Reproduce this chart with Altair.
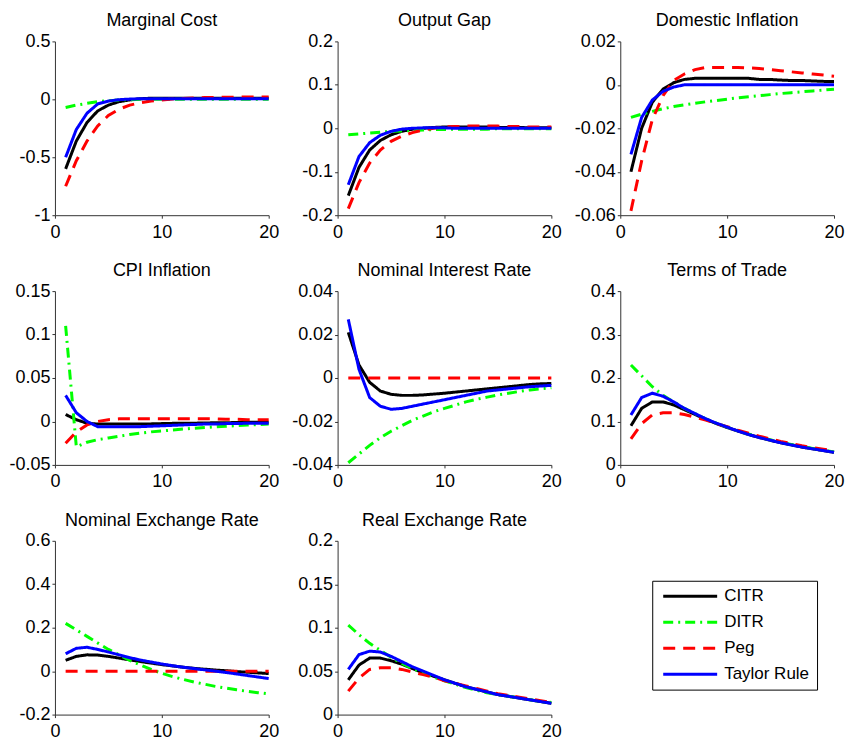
import altair as alt
import pandas as pd

periods = list(range(1, 21))
series_names = ["CITR", "DITR", "Peg", "Taylor Rule"]
series_colors = ["#000000", "#00ff00", "#ff0000", "#0000ff"]
series_dashes = [[1, 0], [10, 5, 2, 5], [12, 8], [1, 0]]

panel_titles = ["Marginal Cost", "Output Gap", "Domestic Inflation",
                "CPI Inflation", "Nominal Interest Rate", "Terms of Trade",
                "Nominal Exchange Rate", "Real Exchange Rate"]
y_domains = [[-1, 0.5], [-0.2, 0.2], [-0.06, 0.02], [-0.05, 0.15],
             [-0.04, 0.04], [0, 0.4], [-0.2, 0.6], [0, 0.2]]
y_ticks = [[-1, -0.5, 0, 0.5], [-0.2, -0.1, 0, 0.1, 0.2],
           [-0.06, -0.04, -0.02, 0, 0.02], [-0.05, 0, 0.05, 0.1, 0.15],
           [-0.04, -0.02, 0, 0.02, 0.04], [0, 0.1, 0.2, 0.3, 0.4],
           [-0.2, 0, 0.2, 0.4, 0.6], [0, 0.05, 0.1, 0.15, 0.2]]
x_ticks = [0, 10, 20]

# Marginal Cost
mc_citr = [-0.60, -0.36, -0.20, -0.10, -0.05, -0.02, -0.005, 0.005, 0.01, 0.01,
           0.01, 0.01, 0.01, 0.01, 0.01, 0.01, 0.01, 0.01, 0.01, 0.01]
mc_ditr = [-0.07, -0.05, -0.035, -0.02, -0.012, -0.006, -0.003, 0, 0, 0,
           0, 0, 0, 0, 0, 0, 0, 0, 0, 0]
mc_peg = [-0.75, -0.53, -0.36, -0.23, -0.14, -0.085, -0.05, -0.03, -0.015, -0.005,
          0.003, 0.008, 0.012, 0.015, 0.017, 0.018, 0.019, 0.02, 0.02, 0.02]
mc_taylor = [-0.50, -0.26, -0.12, -0.04, -0.015, -0.003, 0.002, 0.005, 0.005, 0.005,
             0.005, 0.005, 0.005, 0.005, 0.005, 0.005, 0.005, 0.005, 0.005, 0.005]

# Output Gap
og_citr = [-0.155, -0.09, -0.05, -0.028, -0.015, -0.007, -0.002, 0.0, 0.002, 0.003,
           0.003, 0.003, 0.003, 0.003, 0.002, 0.002, 0.002, 0.001, 0.001, 0.001]
og_ditr = [-0.015, -0.013, -0.011, -0.009, -0.007, -0.006, -0.005, -0.004, -0.003, -0.003,
           -0.002, -0.002, -0.002, -0.002, -0.001, -0.001, -0.001, -0.001, -0.001, -0.001]
og_peg = [-0.185, -0.125, -0.08, -0.05, -0.03, -0.018, -0.01, -0.004, 0.0, 0.003,
          0.004, 0.005, 0.005, 0.005, 0.005, 0.004, 0.004, 0.003, 0.003, 0.003]
og_taylor = [-0.13, -0.065, -0.033, -0.016, -0.007, -0.002, 0.0, 0.001, 0.001, 0.001,
             0, 0, 0, 0, 0, 0, 0, 0, 0, 0]

# Domestic Inflation
di_citr = [-0.040, -0.020, -0.008, -0.002, 0.001, 0.0025, 0.003, 0.003, 0.003, 0.003,
           0.003, 0.003, 0.0025, 0.0025, 0.0022, 0.002, 0.002, 0.0018, 0.0016, 0.0015]
di_ditr = [-0.015, -0.0135, -0.0122, -0.011, -0.0100, -0.0092, -0.0085, -0.0078, -0.0072, -0.0066,
           -0.006, -0.0055, -0.005, -0.0045, -0.004, -0.0036, -0.0032, -0.0028, -0.0024, -0.002]
di_peg = [-0.058, -0.035, -0.016, -0.005, 0.002, 0.005, 0.007, 0.008, 0.008, 0.008,
          0.008, 0.0078, 0.0075, 0.007, 0.0065, 0.006, 0.0055, 0.005, 0.0045, 0.004]
di_taylor = [-0.032, -0.015, -0.007, -0.003, -0.001, 0.0, 0.0, 0.0, 0.0, 0.0,
             0.0, 0.0, 0.0, 0.0, 0.0, 0.0, 0.0, 0.0, 0.0, 0.0]

# CPI Inflation
cpi_citr = [0.008, 0.002, -0.002, -0.003, -0.003, -0.003, -0.003, -0.003, -0.0028, -0.0025,
            -0.0022, -0.002, -0.002, -0.0018, -0.0015, -0.0015, -0.0012, -0.001, -0.001, -0.001]
cpi_ditr = [0.11, -0.029, -0.024, -0.021, -0.019, -0.017, -0.015, -0.0135, -0.012, -0.011,
            -0.0098, -0.0088, -0.0078, -0.007, -0.0062, -0.0055, -0.0048, -0.0042, -0.0036, -0.003]
cpi_peg = [-0.025, -0.012, -0.004, 0.0, 0.002, 0.003, 0.003, 0.003, 0.003, 0.003,
           0.003, 0.003, 0.003, 0.003, 0.003, 0.0025, 0.0025, 0.002, 0.002, 0.002]
cpi_taylor = [0.030, 0.010, 0.0, -0.006, -0.006, -0.006, -0.006, -0.006, -0.0055, -0.005,
              -0.0045, -0.004, -0.0035, -0.003, -0.003, -0.0025, -0.0025, -0.002, -0.002, -0.002]

# Nominal Interest Rate
nir_citr = [0.021, 0.006, -0.002, -0.006, -0.0075, -0.008, -0.008, -0.0078, -0.0074, -0.007,
            -0.0065, -0.006, -0.0055, -0.005, -0.0045, -0.004, -0.0035, -0.003, -0.0027, -0.0025]
nir_ditr = [-0.039, -0.035, -0.031, -0.0275, -0.0245, -0.022, -0.0195, -0.0175, -0.0155, -0.014,
            -0.0125, -0.011, -0.0098, -0.0088, -0.0078, -0.007, -0.0062, -0.0055, -0.005, -0.0045]
nir_peg = [0.0] * 20
nir_taylor = [0.027, 0.004, -0.009, -0.013, -0.0144, -0.014, -0.013, -0.012, -0.011, -0.010,
              -0.009, -0.008, -0.007, -0.006, -0.0055, -0.005, -0.0045, -0.004, -0.0037, -0.0034]

# Terms of Trade
tot_citr = [0.09, 0.13, 0.145, 0.145, 0.138, 0.127, 0.116, 0.105, 0.095, 0.086,
            0.078, 0.07, 0.063, 0.057, 0.051, 0.046, 0.041, 0.037, 0.033, 0.029]
tot_ditr = [0.23, 0.205, 0.18, 0.16, 0.145, 0.13, 0.118, 0.106, 0.096, 0.087,
            0.078, 0.071, 0.064, 0.058, 0.052, 0.047, 0.042, 0.038, 0.034, 0.03]
tot_peg = [0.06, 0.095, 0.115, 0.12, 0.12, 0.116, 0.11, 0.103, 0.095, 0.088,
           0.08, 0.073, 0.066, 0.06, 0.054, 0.049, 0.044, 0.04, 0.036, 0.032]
tot_taylor = [0.115, 0.155, 0.165, 0.158, 0.145, 0.13, 0.118, 0.106, 0.096, 0.087,
              0.078, 0.07, 0.063, 0.057, 0.051, 0.046, 0.041, 0.037, 0.033, 0.029]

# Nominal Exchange Rate
ner_citr = [0.05, 0.068, 0.075, 0.074, 0.068, 0.06, 0.052, 0.044, 0.037, 0.03,
            0.024, 0.018, 0.013, 0.009, 0.005, 0.002, -0.002, -0.005, -0.008, -0.011]
ner_ditr = [0.22, 0.19, 0.16, 0.13, 0.10, 0.075, 0.05, 0.028, 0.008, -0.01,
            -0.025, -0.038, -0.05, -0.06, -0.07, -0.078, -0.086, -0.093, -0.099, -0.105]
ner_peg = [0.0] * 20
ner_taylor = [0.08, 0.105, 0.11, 0.1, 0.088, 0.075, 0.062, 0.051, 0.042, 0.033,
              0.025, 0.018, 0.012, 0.006, 0.0, -0.006, -0.013, -0.02, -0.027, -0.034]

# Real Exchange Rate
rer_citr = [0.04, 0.057, 0.065, 0.065, 0.062, 0.058, 0.053, 0.048, 0.044, 0.04,
            0.036, 0.032, 0.029, 0.026, 0.023, 0.021, 0.019, 0.017, 0.015, 0.013]
rer_ditr = [0.103, 0.092, 0.082, 0.074, 0.066, 0.059, 0.053, 0.048, 0.043, 0.039,
            0.035, 0.031, 0.028, 0.025, 0.023, 0.021, 0.019, 0.017, 0.015, 0.014]
rer_peg = [0.027, 0.042, 0.052, 0.054, 0.054, 0.052, 0.049, 0.046, 0.043, 0.039,
           0.036, 0.033, 0.03, 0.027, 0.024, 0.022, 0.02, 0.018, 0.016, 0.014]
rer_taylor = [0.052, 0.069, 0.073, 0.072, 0.067, 0.061, 0.055, 0.05, 0.045, 0.04,
              0.036, 0.032, 0.029, 0.026, 0.023, 0.021, 0.019, 0.017, 0.015, 0.013]

panel_series = [
    [mc_citr, mc_ditr, mc_peg, mc_taylor],
    [og_citr, og_ditr, og_peg, og_taylor],
    [di_citr, di_ditr, di_peg, di_taylor],
    [cpi_citr, cpi_ditr, cpi_peg, cpi_taylor],
    [nir_citr, nir_ditr, nir_peg, nir_taylor],
    [tot_citr, tot_ditr, tot_peg, tot_taylor],
    [ner_citr, ner_ditr, ner_peg, ner_taylor],
    [rer_citr, rer_ditr, rer_peg, rer_taylor],
]

FONT = "Liberation Sans"

legend = alt.Legend(
    title=None, orient="none", legendX=598, legendY=540,
    symbolType="M-0.9,0H9.9", symbolSize=100, symbolStrokeWidth=3,
    labelOffset=48, padding=7, rowPadding=8,
    strokeColor="#000000", fillColor="#ffffff",
    labelFont=FONT, labelFontSize=17, labelColor="#000000",
)

charts = []
for title, dom, ticks, vals in zip(panel_titles, y_domains, y_ticks, panel_series):
    rows = []
    for name, series in zip(series_names, vals):
        for p, v in zip(periods, series):
            rows.append({"period": p, "value": v, "series": name})
    df = pd.DataFrame(rows)
    ch = alt.Chart(df).mark_line(strokeWidth=3).encode(
        x=alt.X("period:Q", scale=alt.Scale(domain=[0, 20], nice=False),
                axis=alt.Axis(values=x_ticks, title=None, labelFlush=False,
                              labelExpr="toString(datum.value)")),
        y=alt.Y("value:Q", scale=alt.Scale(domain=dom, nice=False, zero=False),
                axis=alt.Axis(values=ticks, title=None,
                              labelExpr="toString(datum.value)")),
        color=alt.Color("series:N",
                        scale=alt.Scale(domain=series_names, range=series_colors),
                        legend=legend),
        strokeDash=alt.StrokeDash("series:N",
                                  scale=alt.Scale(domain=series_names, range=series_dashes),
                                  legend=legend),
    ).properties(
        width=214, height=174,
        title=alt.TitleParams(title, font=FONT, fontSize=18, fontWeight="normal",
                              color="#000000", offset=2, frame="group",
                              anchor="middle"),
    )
    charts.append(ch)

chart = alt.concat(
    *charts, columns=3, spacing={"row": 76, "column": 69}, bounds="flush"
).properties(
    padding={"left": 0, "top": 4, "right": 0, "bottom": 0}
).configure_view(
    stroke=None
).configure_axis(
    grid=False, domainColor="#333333", domainWidth=1, tickColor="#333333",
    tickSize=3, labelPadding=2, labelFont=FONT, labelFontSize=18,
    labelColor="#000000",
).configure_axisX(
    labelPadding=5
)

chart.save("out.html", embed_options={"renderer": "svg", "actions": False})
